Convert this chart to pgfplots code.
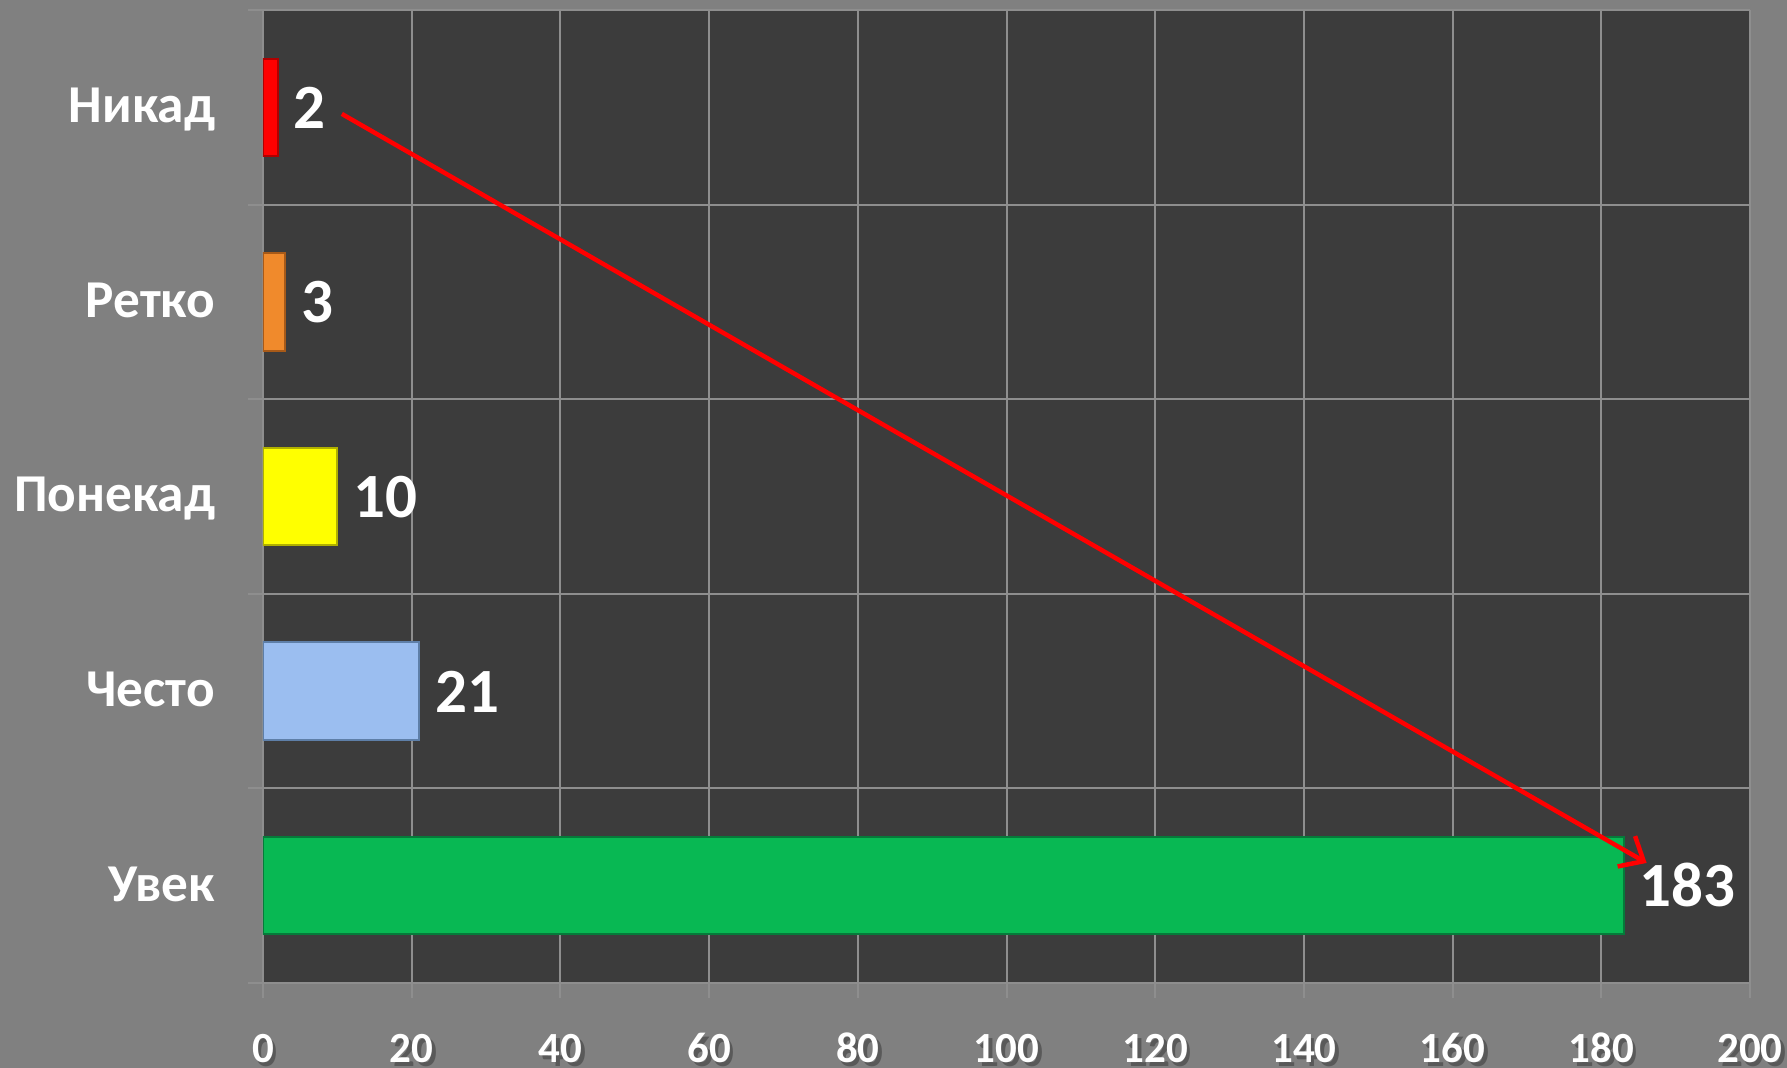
\documentclass[border=0pt]{standalone}
\usepackage{pgfplots}
\pgfplotsset{compat=1.18}
\usepackage{fontspec}
\setmainfont{Carlito}
\usetikzlibrary{arrows.meta}
\definecolor{bgc}{HTML}{808080}
\definecolor{plotc}{HTML}{3C3C3C}
\definecolor{gridc}{HTML}{8E8E8E}
\definecolor{c1}{HTML}{FF0000}
\definecolor{c1d}{HTML}{B00000}
\definecolor{c2}{HTML}{F08A2C}
\definecolor{c2d}{HTML}{A85A18}
\definecolor{c3}{HTML}{FFFF00}
\definecolor{c3d}{HTML}{B0B000}
\definecolor{c4}{HTML}{9BBEF0}
\definecolor{c4d}{HTML}{5E7FA8}
\definecolor{c5}{HTML}{08B853}
\definecolor{c5d}{HTML}{067A3A}
\newcommand\sh[1]{\makebox[0pt][l]{\kern1.5pt\raisebox{-1.5pt}{\textcolor{black!65}{#1}}}#1}
\begin{document}
\begin{tikzpicture}
\fill[bgc] (-105.2pt,-34pt) rectangle (609.6pt,393.2pt);
\begin{axis}[
  at={(0,0)}, anchor=south west,
  scale only axis, width=594.8pt, height=389.2pt,
  xmin=0, xmax=200, ymin=-0.5, ymax=4.5,
  axis background/.style={fill=plotc},
  axis line style={draw=none},
  xtick={0,20,...,200},
  xmajorgrids,
  grid style={draw=gridc, line width=0.8pt},
  tick align=outside,
  major tick length=6pt,
  xtick pos=bottom, ytick pos=left,
  xtick style={draw=gridc, line width=0.8pt},
  ytick={0,1,2,3,4},
  yticklabels={Увек,Често,Понекад,Ретко,Никад},
  ytick style={draw=none},
  extra y ticks={-0.5,0.5,1.5,2.5,3.5,4.5},
  extra y tick labels={},
  extra y tick style={grid=major, ytick style={draw=gridc, line width=0.8pt}},
  /pgf/number format/assume math mode=true,
  xticklabel={\sh{\pgfmathprintnumber{\tick}}},
  xticklabel style={anchor=base, inner sep=0pt, yshift=-26pt, text=white,
     font=\fontsize{17.2}{20}\selectfont\bfseries},
  yticklabel style={anchor=base east, inner sep=0pt, xshift=-13pt, yshift=-6.2pt, text=white,
     font=\fontsize{21.3}{25}\selectfont\bfseries},
  yticklabel={\sh{\tick}},
  point meta=x,
  nodes near coords,
  every node near coord/.style={anchor=base west, inner sep=0pt, xshift=6pt, yshift=-8.4pt,
     text=white, font=\fontsize{25.2}{30}\selectfont\bfseries},
]
\pgfplotsset{yticklabels={Увек,Често,Понекад,Ретко,Никад}}
\addplot[xbar, bar width=0.5, bar shift=0pt, fill=c1, draw=c1d, line width=0.8pt] coordinates {(2,4)};
\addplot[xbar, bar width=0.5, bar shift=0pt, fill=c2, draw=c2d, line width=0.8pt] coordinates {(3,3)};
\addplot[xbar, bar width=0.5, bar shift=0pt, fill=c3, draw=c3d, line width=0.8pt] coordinates {(10,2)};
\addplot[xbar, bar width=0.5, bar shift=0pt, fill=c4, draw=c4d, line width=0.8pt] coordinates {(21,1)};
\addplot[xbar, bar width=0.5, bar shift=0pt, fill=c5, draw=c5d, line width=0.8pt] coordinates {(183,0)};
\draw[red, line width=1.8pt, -{Straight Barb[length=8pt,width=14pt]}] (axis cs:10.6,3.966) -- (axis cs:186.1,0.117);
\end{axis}
\pgfresetboundingbox
\path[use as bounding box] (-105.2pt,-34pt) rectangle (609.6pt,393.2pt);
\end{tikzpicture}
\end{document}
